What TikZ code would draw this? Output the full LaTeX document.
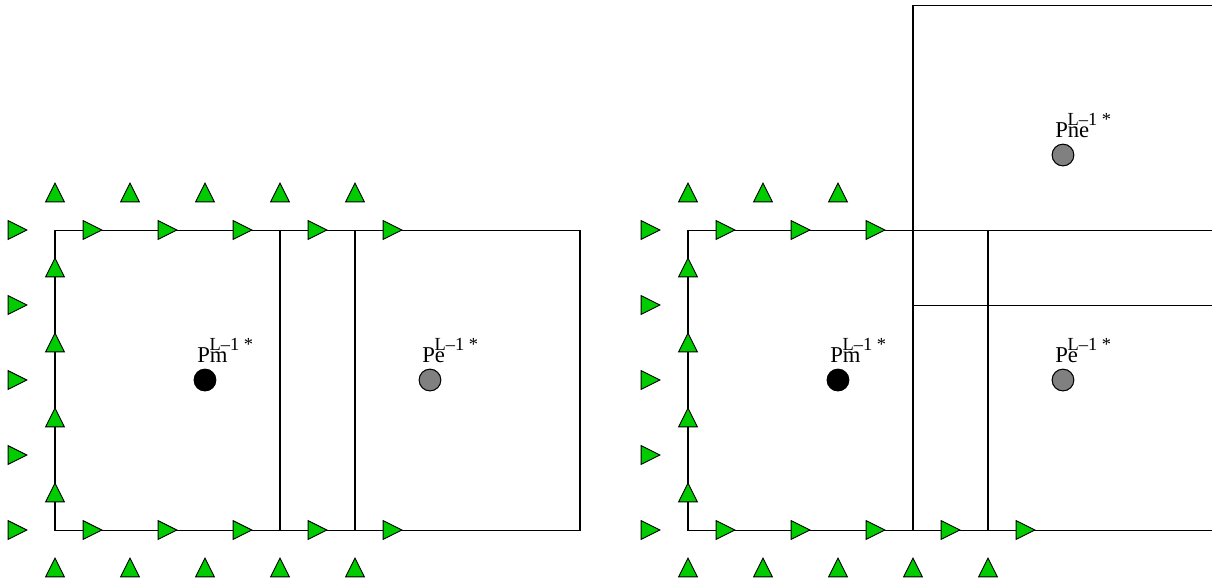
\documentclass[tikz,border=0pt]{standalone}
\usepackage{fontspec}
\setmainfont{Liberation Serif}
\usepackage{tikz}
\usetikzlibrary{shapes,arrows,positioning}
\definecolor{velgreen}{RGB}{0,204,0}
\tikzset{
	vel/.style={fill=velgreen, draw=black, line width=0.35pt, line join=miter},
	cell/.style={draw=black, line width=0.4pt},
	ptm/.style={circle, draw=black, fill=black, inner sep=0pt, minimum size=0.29cm},
	pte/.style={circle, draw=black, fill=gray, line width=0.4pt, inner sep=0pt, minimum size=0.29cm},
	lbl/.style={anchor=base west, inner sep=0pt, font=\fontsize{8.6}{10}\selectfont},
	supl/.style={anchor=base west, inner sep=0pt, font=\fontsize{7}{8}\selectfont}
}
% velocity triangles: right pointing and up pointing
\newcommand{\velr}[2]{\filldraw[vel, shift={(#1,#2)}] (-0.125,-0.125) -- (0.125,0) -- (-0.125,0.125) -- cycle;}
\newcommand{\velu}[2]{\filldraw[vel, shift={(#1,#2)}] (-0.125,-0.125) -- (0.125,-0.125) -- (0,0.125) -- cycle;}

\begin{document}
\begin{tikzpicture}
	\clip (-0.733,-0.707) rectangle (15.427,7.067);
	% left panel
	\draw[cell] (0,0) rectangle (7,4);
	\draw[cell] (3,0) -- (3,4);
	\draw[cell] (4,0) -- (4,4);
	\foreach \x in {0,...,4} {\velu{\x}{4.5} \velu{\x}{-0.5}}
	\foreach \y in {0,...,4} {\velr{-0.5}{\y}}
	\foreach \x in {0.5,1.5,...,4.5} {\velr{\x}{4} \velr{\x}{0}}
	\foreach \y in {0.5,1.5,...,3.5} {\velu{0}{\y}}
	\node[ptm] (pmL) at (2,2) {};
	\node[pte] (peL) at (5,2) {};
	\node[lbl] (pmLlab) at ([shift={(-0.11,0.24)}]pmL.center) {Pm};
	\node[supl] (pmLsup) at ([shift={(0.055,0.40)}]pmL.center) {L--1 *};
	\node[lbl] (peLlab) at ([shift={(-0.11,0.24)}]peL.center) {Pe};
	\node[supl] (peLsup) at ([shift={(0.055,0.40)}]peL.center) {L--1 *};
	% right panel
	\begin{scope}[xshift=8.44cm]
		\draw[cell] (7.2,4) -- (0,4) -- (0,0) -- (7.2,0);
		\draw[cell] (3,0) -- (3,7) -- (7.2,7);
		\draw[cell] (4,0) -- (4,4);
		\draw[cell] (3,3) -- (7.2,3);
		\foreach \x in {0,1,2} {\velu{\x}{4.5}}
		\foreach \x in {0,...,4} {\velu{\x}{-0.5}}
		\foreach \y in {0,...,4} {\velr{-0.5}{\y}}
		\foreach \x in {0.5,1.5,2.5} {\velr{\x}{4}}
		\foreach \x in {0.5,1.5,...,4.5} {\velr{\x}{0}}
		\foreach \y in {0.5,1.5,...,3.5} {\velu{0}{\y}}
		\node[ptm] (pmR) at (2,2) {};
		\node[pte] (peR) at (5,2) {};
		\node[pte] (pneR) at (5,5) {};
		\node[lbl] (pmRlab) at ([shift={(-0.11,0.24)}]pmR.center) {Pm};
		\node[supl] (pmRsup) at ([shift={(0.055,0.40)}]pmR.center) {L--1 *};
		\node[lbl] (peRlab) at ([shift={(-0.11,0.24)}]peR.center) {Pe};
		\node[supl] (peRsup) at ([shift={(0.055,0.40)}]peR.center) {L--1 *};
		\node[lbl] (pneRlab) at ([shift={(-0.11,0.24)}]pneR.center) {Pne};
		\node[supl] (pneRsup) at ([shift={(0.055,0.40)}]pneR.center) {L--1 *};
	\end{scope}
\end{tikzpicture}
\end{document}
